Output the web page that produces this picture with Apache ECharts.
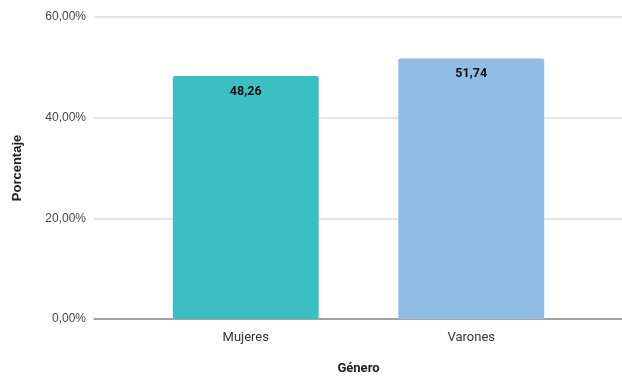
<!DOCTYPE html>
<html>
<head>
<meta charset="utf-8">
<style>
  html, body { margin: 0; padding: 0; background: #fff; }
  #chart { width: 622px; height: 376px; }
</style>
<script src="https://cdn.jsdelivr.net/npm/echarts@6/dist/echarts.min.js"></script>
</head>
<body>
<div id="chart"></div>
<script>
// Distribución por género (%)
const categories = ['Mujeres', 'Varones'];
const values = [48.26, 51.74];
const barColors = ['#3cbfc2', '#8fbde5'];
const yTicks = [0, 20, 40, 60];

const fmtComma = (v, d) => v.toFixed(d).replace('.', ',');

const chart = echarts.init(document.getElementById('chart'));
chart.setOption({
  animation: false,
  backgroundColor: '#ffffff',
  grid: [
    // full-width frame: y scale, gridlines and baseline
    { left: 94, right: 0, top: 17, bottom: 57, outerBoundsMode: 'none', containLabel: false },
    // bar area
    { left: 133, right: 38, top: 17, bottom: 57, outerBoundsMode: 'none', containLabel: false }
  ],
  xAxis: [
    {
      gridIndex: 0, type: 'value', min: 0, max: 1,
      axisLine: { show: true, lineStyle: { color: '#8c8c8c', width: 1.5 } },
      axisTick: { show: false }, axisLabel: { show: false }, splitLine: { show: false }
    },
    {
      gridIndex: 1, type: 'category', data: categories,
      axisLine: { show: false }, axisTick: { show: false },
      axisLabel: { margin: 12, color: '#333', fontSize: 13, fontFamily: 'Roboto' },
      name: 'Género', nameLocation: 'middle', nameGap: 43,
      nameTextStyle: { fontWeight: 'bold', fontSize: 13, color: '#222', fontFamily: 'Roboto' }
    }
  ],
  yAxis: [
    {
      gridIndex: 0, type: 'value', min: yTicks[0], max: yTicks[yTicks.length - 1], interval: 20,
      axisLine: { show: false }, axisTick: { show: false },
      axisLabel: {
        margin: 8, color: '#444', fontSize: 12, fontFamily: 'Liberation Sans',
        formatter: v => fmtComma(v, 2) + '%'
      },
      splitLine: { lineStyle: { color: '#dcdcdc', width: 1.5 } },
      name: 'Porcentaje', nameLocation: 'middle', nameGap: 70, nameRotate: 90,
      nameTextStyle: { fontWeight: 'bold', fontSize: 13, color: '#222', fontFamily: 'Liberation Sans' }
    },
    {
      gridIndex: 1, type: 'value', min: yTicks[0], max: yTicks[yTicks.length - 1], interval: 20,
      show: false, splitLine: { show: false }
    }
  ],
  series: [{
    type: 'bar',
    xAxisIndex: 1, yAxisIndex: 1,
    barWidth: '64.7%',
    data: values.map((v, i) => ({ value: v, itemStyle: { color: barColors[i], borderRadius: [2, 2, 0, 0] } })),
    label: {
      show: true, position: 'insideTop', distance: 9,
      fontWeight: 'bold', fontSize: 12.5, color: '#111', fontFamily: 'Roboto',
      formatter: p => fmtComma(p.value, 2)
    }
  }]
});
</script>
</body>
</html>
